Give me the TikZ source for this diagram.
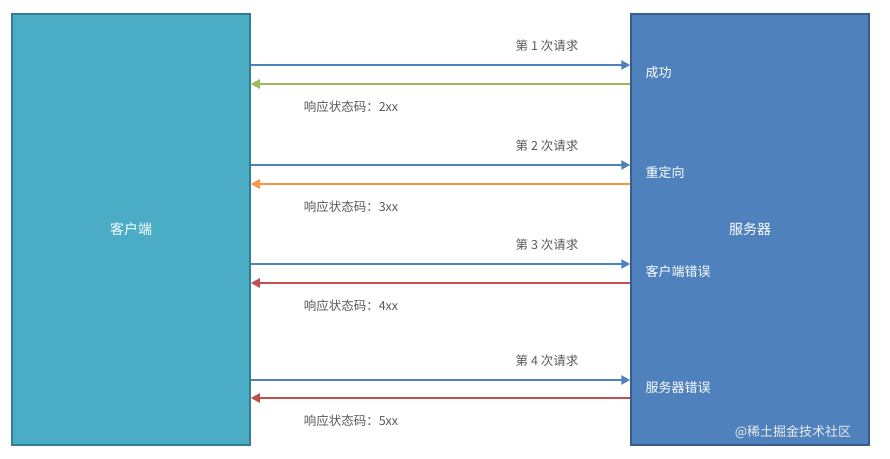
\documentclass[tikz,border=0pt]{standalone}
\usepackage{fontspec}
\setmainfont{Noto Sans CJK SC}
\usetikzlibrary{arrows.meta}
\definecolor{cl}{HTML}{4BACC6}
\definecolor{clb}{HTML}{357D91}
\definecolor{sv}{HTML}{4F81BD}
\definecolor{svb}{HTML}{385D8A}
\definecolor{req}{HTML}{4F81BD}
\definecolor{gr}{HTML}{9BBB59}
\definecolor{org}{HTML}{F79646}
\definecolor{rd}{HTML}{C0504D}
\definecolor{txt}{HTML}{595959}
\tikzset{
 box/.style={draw=#1,line width=1.5pt,minimum width=238pt,minimum height=431pt,text=white,font=\fontsize{14}{16}\selectfont},
 arr/.style={draw=#1,line width=2.5pt,-{Triangle[length=9pt,width=9pt]}},
 lbl/.style={text=txt,font=\fontsize{12.5}{14}\selectfont},
 st/.style={text=white,anchor=west,font=\fontsize{13}{15}\selectfont}
}
\begin{document}
\begin{tikzpicture}[x=1pt,y=-1pt]
\useasboundingbox[fill=white] (0,0) rectangle (890,458);
\node[box=clb,fill=cl] (L) at (131,229.5) {客户端};
\node[box=svb,fill=sv] (R) at (750,229.5) {服务器};
\foreach \i/\y/\z/\c/\s/\t in {1/65/84/gr/成功/2xx,2/165/184/org/重定向/3xx,3/264/283/rd/客户端错误/4xx,4/380/398/rd/服务器错误/5xx}{
 \coordinate (q\i) at (0,\y);
 \coordinate (p\i) at (0,\z);
 \draw[arr=req] (L.east|-q\i) -- (R.west|-q\i);
 \draw[arr=\c] (R.west|-p\i) -- (L.east|-p\i);
 \node[lbl] (ql\i) at (547,\y-19) {第 \i{} 次请求};
 \node[lbl] (pl\i) at (351,\z+23) {响应状态码：\t};
 \node[st] (s\i) at (642,\y+8) {\s};
}
\node[text=white!85!gray,font=\fontsize{13}{15}\selectfont] (wm) at (793,432) {@稀土掘金技术社区};
\end{tikzpicture}
\end{document}
